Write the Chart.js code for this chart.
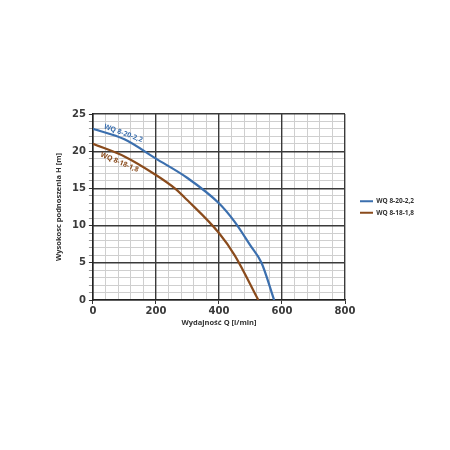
<!DOCTYPE html>
<html><head><meta charset="utf-8">
<script src="https://cdn.jsdelivr.net/npm/chart.js@4.4.1/dist/chart.umd.min.js"></script>
<style>html,body{margin:0;padding:0;background:#fff}#wrap{width:450px;height:450px}</style>
</head><body><div id="wrap"><canvas id="c" width="450" height="450"></canvas></div>
<script>
const seriesNames = ['WQ 8-20-2,2', 'WQ 8-18-1,8'];
const flowA = [0, 100, 200, 300, 400, 450, 500, 535, 575];
const headA = [23, 21.6, 19, 16.4, 13, 10.5, 7.3, 5, 0];
const flowB = [0, 100, 200, 260, 300, 400, 450, 525];
const headB = [21, 19.3, 16.8, 15, 13.4, 9, 6, 0];
const xTitle = 'Wydajność Q [l/min]';
const yTitle = 'Wysokosc podnoszenia H [m]';
const blue = '#3b6fae';
const brown = '#8a4b1c';

const pts = (xs, ys) => xs.map((x, i) => ({x, y: ys[i]}));

const curveLabels = {
  id: 'curveLabels',
  afterDatasetsDraw(chart) {
    const {ctx, scales: {x, y}} = chart;
    const items = [
      {text: seriesNames[0], q: 32, h: 22.9, rot: 20, color: blue, base: 'bottom'},
      {text: seriesNames[1], q: 29, h: 20.0, rot: 23, color: brown, base: 'top'}
    ];
    ctx.save();
    ctx.font = '700 7px "Open Sans"';
    items.forEach(it => {
      ctx.save();
      ctx.translate(x.getPixelForValue(it.q), y.getPixelForValue(it.h));
      ctx.rotate(it.rot * Math.PI / 180);
      ctx.fillStyle = it.color;
      ctx.textBaseline = it.base;
      ctx.fillText(it.text, 0, 0);
      ctx.restore();
    });
    ctx.restore();
  }
};

const major = (v, step) => Math.abs(v % step) < 1e-6;
const tickFont = {family: 'DejaVu Sans', size: 10, weight: 'bold'};
const titleFont = {family: 'Open Sans', size: 7.5, weight: '700'};

new Chart(document.getElementById('c'), {
  type: 'line',
  data: {
    datasets: [
      {label: seriesNames[0], data: pts(flowA, headA), xAxisID: 'x', yAxisID: 'y', borderColor: blue, backgroundColor: blue, borderWidth: 2.2, pointRadius: 0, cubicInterpolationMode: 'monotone'},
      {label: seriesNames[1], data: pts(flowB, headB), xAxisID: 'x', yAxisID: 'y', borderColor: brown, backgroundColor: brown, borderWidth: 2.2, pointRadius: 0, cubicInterpolationMode: 'monotone'}
    ]
  },
  options: {
    responsive: false,
    animation: false,
    devicePixelRatio: 1,
    layout: {padding: {left: 50, top: 114, right: 34, bottom: 123}},
    plugins: {
      legend: {
        position: 'right',
        align: 'center',
        fullSize: false,
        labels: {boxWidth: 13, boxHeight: 2, padding: 5, color: '#333', font: {family: 'Open Sans', size: 6.5, weight: '700'},
          generateLabels: chart => Chart.defaults.plugins.legend.labels.generateLabels(chart).map(l => Object.assign(l, {lineWidth: 0}))}
      },
      tooltip: {enabled: false}
    },
    scales: {
      x: {
        type: 'linear', min: 0, max: 800, position: 'bottom',
        ticks: {stepSize: 40, autoSkip: false, maxRotation: 0, color: '#3a3a3a', padding: 1, font: tickFont,
          callback: v => major(v, 200) ? v : ''},
        grid: {z: -2, color: c => major(c.tick.value, 200) ? 'rgba(0,0,0,0)' : '#cfcfcf', lineWidth: 1,
          tickColor: c => major(c.tick.value, 200) ? '#333' : 'rgba(0,0,0,0)', tickLength: 4},
        border: {color: '#222', width: 1.5},
        title: {display: true, text: xTitle, color: '#333', padding: {top: 0, bottom: 0}, font: titleFont}
      },
      y: {
        type: 'linear', min: 0, max: 25, position: 'left',
        ticks: {stepSize: 1, autoSkip: false, color: '#3a3a3a', padding: 3, font: tickFont,
          callback: v => major(v, 5) ? v : ''},
        grid: {z: -2, color: c => major(c.tick.value, 5) ? 'rgba(0,0,0,0)' : '#cfcfcf', lineWidth: 1,
          tickColor: c => major(c.tick.value, 5) ? '#333' : '#999', tickLength: 4},
        border: {color: '#222', width: 1.5},
        title: {display: true, text: yTitle, color: '#333', padding: {bottom: 6}, font: titleFont}
      },
      xMajor: {
        type: 'linear', min: 0, max: 800, position: 'top',
        ticks: {display: false, stepSize: 200},
        grid: {z: -1, color: '#3a3a3a', lineWidth: 1.4, drawTicks: false},
        border: {display: false},
        afterFit: s => { s.height = 0; }
      },
      yMajor: {
        type: 'linear', min: 0, max: 25, position: 'right',
        ticks: {display: false, stepSize: 5},
        grid: {z: -1, color: '#3a3a3a', lineWidth: 1.4, drawTicks: false},
        border: {display: false},
        afterFit: s => { s.width = 10; }
      }
    }
  },
  plugins: [curveLabels]
});
</script></body></html>
